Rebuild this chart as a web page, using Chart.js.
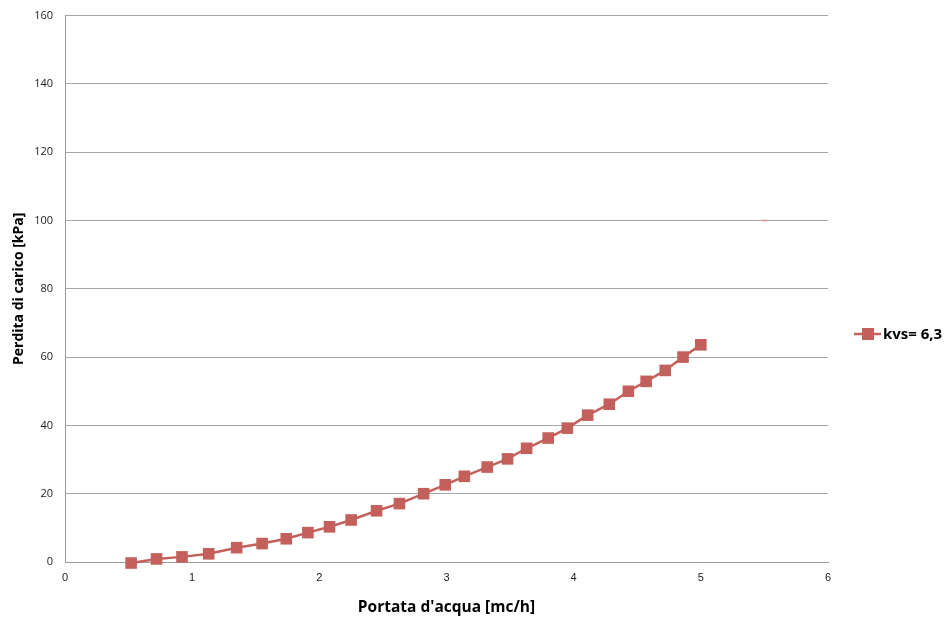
<!DOCTYPE html>
<html>
<head>
<meta charset="utf-8">
<script src="https://cdn.jsdelivr.net/npm/chart.js"></script>
<style>
  html, body { margin: 0; padding: 0; background: #fff; overflow: hidden; }
  #wrap { width: 946px; height: 620px; position: relative; top: -3px; }
</style>
</head>
<body>
<div id="wrap"><canvas id="chart-perdita"></canvas></div>
<script>
// portata [mc/h]
const portata = [0.52, 0.72, 0.92, 1.13, 1.35, 1.55, 1.74, 1.91, 2.08, 2.25, 2.45, 2.63, 2.82,
  2.99, 3.14, 3.32, 3.48, 3.63, 3.80, 3.95, 4.11, 4.28, 4.43, 4.57, 4.72, 4.86, 5.00];
// perdita di carico [kPa]
const perdita = [-0.3, 0.9, 1.5, 2.4, 4.2, 5.4, 6.8, 8.6, 10.3, 12.3, 15.0, 17.1, 20.0,
  22.6, 25.1, 27.8, 30.2, 33.3, 36.3, 39.2, 43.0, 46.2, 50.0, 52.9, 56.1, 60.0, 63.6];
// piccolo segno isolato
const segnoX = [5.5];
const segnoY = [100];
const serieLabel = "kvs= 6,3";
const yTicks = [0, 20, 40, 60, 80, 100, 120, 140, 160];
const xTicks = [0, 1, 2, 3, 4, 5, 6];

const rosso = "#C3605B";

document.addEventListener("DOMContentLoaded", () => {
  const canvas = document.getElementById("chart-perdita");

  // legenda a destra: linea + quadrato, come in Excel
  const legendaDestra = {
    id: "legendaDestra",
    afterDraw(chart) {
      const ctx = chart.ctx;
      const ds = chart.data.datasets[0];
      const y = 337;
      ctx.save();
      ctx.strokeStyle = ds.borderColor;
      ctx.lineWidth = 2.5;
      ctx.beginPath();
      ctx.moveTo(854, y);
      ctx.lineTo(881, y);
      ctx.stroke();
      ctx.fillStyle = ds.backgroundColor;
      ctx.fillRect(862, y - 6, 12, 12);
      ctx.fillStyle = "#000";
      ctx.font = "bold 15px 'Open Sans'";
      ctx.textBaseline = "middle";
      ctx.fillText(ds.label, 883, y + 1);
      ctx.restore();
    }
  };

  new Chart(canvas.getContext("2d"), {
    type: "scatter",
    data: {
      datasets: [
        {
          label: serieLabel,
          data: portata.map((x, i) => ({ x, y: perdita[i] })),
          showLine: true,
          borderColor: rosso,
          backgroundColor: rosso,
          borderWidth: 2.5,
          pointStyle: "rect",
          pointRadius: 8.2,
          pointHoverRadius: 8.2,
          pointBorderWidth: 0,
          tension: 0,
          clip: false,
        },
        {
          label: "",
          data: segnoX.map((x, i) => ({ x, y: segnoY[i] })),
          showLine: false,
          borderColor: "#E08C8A",
          backgroundColor: "#E08C8A",
          pointStyle: "line",
          pointRadius: 3,
          pointBorderWidth: 1.5,
        },
      ],
    },
    options: {
      responsive: true,
      maintainAspectRatio: false,
      animation: false,
      events: [],
      layout: { padding: { top: 12, right: 118, left: 11, bottom: 0 } },
      plugins: {
        legend: { display: false },
        tooltip: { enabled: false },
      },
      scales: {
        x: {
          type: "linear",
          min: 0,
          max: 6,
          afterBuildTicks: (s) => { s.ticks = xTicks.map((v) => ({ value: v })); },
          afterFit: (s) => { s.height = 55; },
          grid: { display: false, drawTicks: false },
          border: { display: true, color: "#9a9a9a", width: 1 },
          ticks: {
            padding: 9,
            color: "#222",
            font: { family: "'Liberation Sans Narrow', 'Liberation Sans'", size: 11 },
          },
          title: {
            display: true,
            text: "Portata d'acqua [mc/h]",
            color: "#000",
            font: { family: "'Open Sans'", size: 15.5, weight: "bold" },
            padding: { top: 2, bottom: 0 },
          },
        },
        y: {
          min: 0,
          max: 160,
          afterBuildTicks: (s) => { s.ticks = yTicks.map((v) => ({ value: v })); },
          afterFit: (s) => { s.width = 54; },
          grid: { color: "#a6a6a6", lineWidth: 1, drawTicks: false },
          border: { display: true, color: "#9a9a9a", width: 1 },
          ticks: {
            padding: 12,
            color: "#222",
            font: { family: "'Open Sans'", size: 11 },
          },
          title: {
            display: true,
            text: "Perdita di carico [kPa]",
            color: "#000",
            font: { family: "'Open Sans'", size: 14, weight: "bold" },
            padding: { top: 0, bottom: 2 },
          },
        },
      },
    },
    plugins: [legendaDestra],
  });
});
</script>
</body>
</html>
